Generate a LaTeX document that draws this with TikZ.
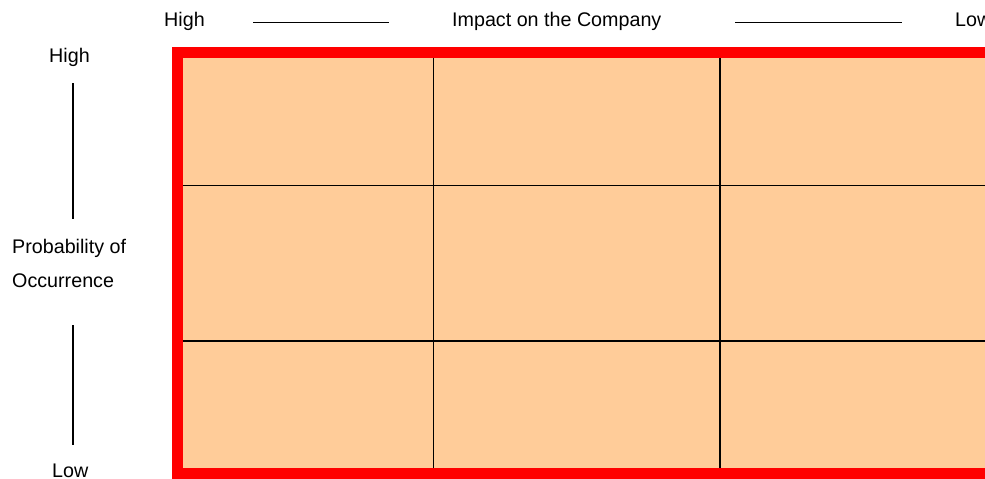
\documentclass[tikz,border=0pt]{standalone}
\usepackage{fontspec}
\setmainfont{Liberation Sans}
\definecolor{cellfill}{HTML}{FFCC99}
\definecolor{framered}{HTML}{FF0000}
\begin{document}
\begin{tikzpicture}[x=1pt,y=-1pt,
  lbl/.style={inner sep=0pt, anchor=base west, font=\fontsize{19.7}{23}\selectfont},
  axisline/.style={line width=1.4pt},
  gridline/.style={line width=1.5pt},
  frameline/.style={draw=framered, line width=11pt}]
\useasboundingbox (0,0) rectangle (985,479);
\clip (0,0) rectangle (985,479);

% matrix cells
\fill[cellfill] (177.5,52.5) rectangle (1000,473.5);
\draw[gridline] (433.3,55) -- (433.3,470);
\draw[gridline] (720,55) -- (720,470);
\draw[gridline] (178,185.7) -- (1000,185.7);
\draw[gridline] (178,340.8) -- (1000,340.8);
\draw[frameline] (177.5,52.5) rectangle (1000,473.5);

% horizontal axis
\node[lbl] (ihigh) at (164,27) {High};
\node[lbl] (ititle) at (452,27) {Impact on the Company};
\node[lbl] (ilow) at (955,27) {Low};
\coordinate (ia) at (253,22.5);
\coordinate (ib) at (389,22.5);
\coordinate (ic) at (735,22.5);
\coordinate (id) at (902,22.5);
\draw[axisline] (ia) -- (ib);
\draw[axisline] (ic) -- (id);

% vertical axis
\node[lbl] (phigh) at (49,62) {High};
\node[lbl] (ptitle) at (12,253) {Probability of};
\node[lbl] (ptitle2) at (12,287) {Occurrence};
\node[lbl] (plow) at (52,477) {Low};
\coordinate (pa) at (73,83);
\coordinate (pb) at (73,219);
\coordinate (pc) at (73,325);
\coordinate (pd) at (73,445);
\draw[axisline] (pa) -- (pb);
\draw[axisline] (pc) -- (pd);
\end{tikzpicture}
\end{document}
